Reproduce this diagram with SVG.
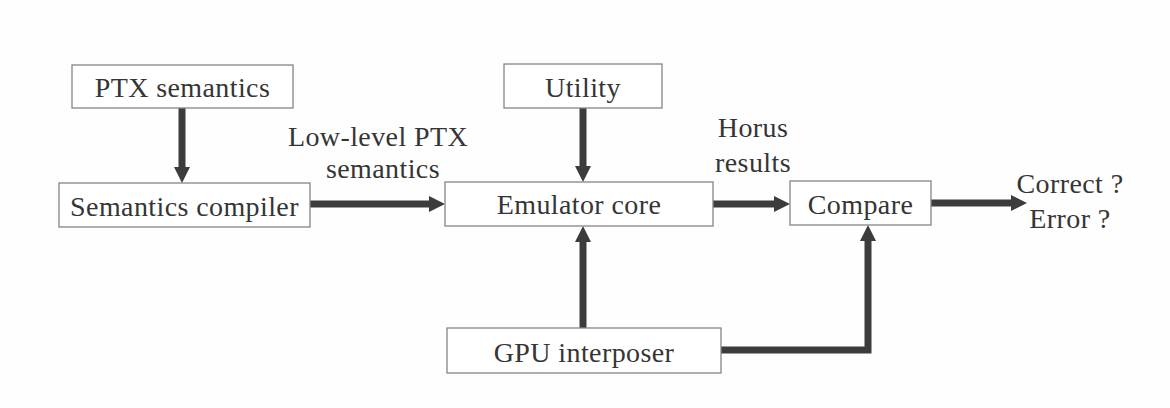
<svg xmlns="http://www.w3.org/2000/svg" width="1170" height="408" viewBox="0 0 1170 408">
<style>
.box{fill:#ffffff;stroke:#858585;stroke-width:1.3}
.t{font-family:"Liberation Serif","Times New Roman",serif;font-size:28px;letter-spacing:0.4px;fill:#353535;text-anchor:middle}
.c{fill:none;stroke:#3c3c3c;stroke-width:7}
</style>
<defs>
<marker id="ah" markerUnits="userSpaceOnUse" markerWidth="18" markerHeight="18" refX="6" refY="8" orient="auto">
<path d="M0,0 L16,8 L0,16 z" fill="#3c3c3c"/>
</marker>
</defs>
<rect width="1170" height="408" fill="#fefefe"/>
<g id="connectors">
<line class="c" x1="182" y1="108" x2="182" y2="173" marker-end="url(#ah)"/>
<line class="c" x1="310" y1="204" x2="435" y2="204" marker-end="url(#ah)"/>
<line class="c" x1="583" y1="108" x2="583" y2="172" marker-end="url(#ah)"/>
<line class="c" x1="713" y1="204" x2="780" y2="204" marker-end="url(#ah)"/>
<line class="c" x1="931" y1="203" x2="1017" y2="203" marker-end="url(#ah)"/>
<line class="c" x1="583" y1="328" x2="583" y2="236" marker-end="url(#ah)"/>
<polyline class="c" points="721,350 868,350 868,235" marker-end="url(#ah)"/>
</g>
<g id="ptx-semantics"><rect class="box" x="72" y="65" width="221" height="43"/><text class="t" x="182.5" y="97">PTX semantics</text></g>
<g id="semantics-compiler"><rect class="box" x="59" y="183" width="251" height="44"/><text class="t" x="184.5" y="216">Semantics compiler</text></g>
<g id="utility"><rect class="box" x="504" y="64" width="158" height="44"/><text class="t" x="583" y="97">Utility</text></g>
<g id="emulator-core"><rect class="box" x="445" y="182" width="268" height="44"/><text class="t" x="579" y="214">Emulator core</text></g>
<g id="compare"><rect class="box" x="790" y="181" width="141" height="44"/><text class="t" x="860.5" y="214">Compare</text></g>
<g id="gpu-interposer"><rect class="box" x="447" y="328" width="274" height="45"/><text class="t" x="584" y="362">GPU interposer</text></g>
<g id="labels">
<text class="t" x="378" y="146">Low-level PTX</text>
<text class="t" x="383" y="178">semantics</text>
<text class="t" x="753" y="137">Horus</text>
<text class="t" x="753" y="172">results</text>
<text class="t" x="1070" y="193">Correct ?</text>
<text class="t" x="1070" y="228">Error ?</text>
</g>
</svg>
